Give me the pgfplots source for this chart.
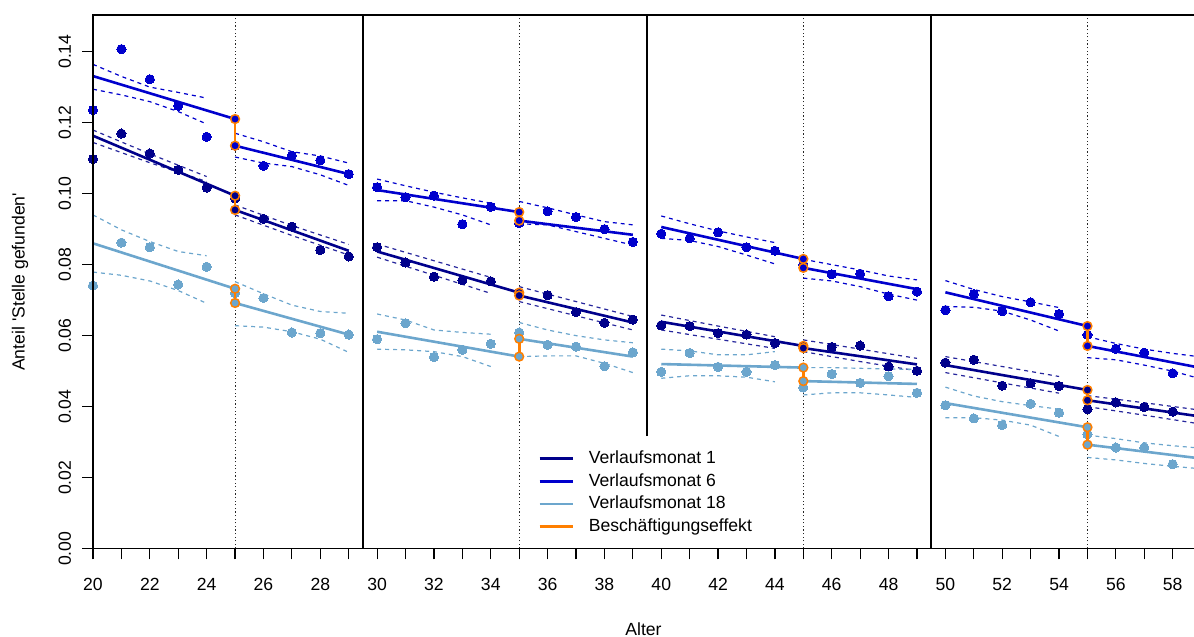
\documentclass[border=0pt]{standalone}
\usepackage{pgfplots}
\pgfplotsset{compat=1.18}
\usepackage{fontspec}
\setmainfont{Liberation Sans}
\definecolor{cA}{HTML}{00008B}
\definecolor{cB}{HTML}{0000CD}
\definecolor{cC}{HTML}{6CA6CD}
\definecolor{cO}{HTML}{FF7F00}
\pgfplotsset{
 pts/.style={forget plot, only marks, mark=*, mark size=2.3pt, color=#1, mark options={draw=#1, fill=#1, line width=0pt}},
 fit/.style={forget plot, no marks, color=#1, line width=1.3pt},
 ci/.style={forget plot, no marks, color=#1, line width=0.6pt, dash pattern=on 2pt off 2pt},
 oseg/.style={forget plot, no marks, color=cO, line width=1.3pt},
 ocir/.style={forget plot, only marks, mark=*, mark size=2.2pt, color=cO, mark options={draw=cO, fill=#1, line width=0.75pt}},
 vdot/.style={forget plot, no marks, color=black!85, line width=0.55pt, dash pattern=on 0.6pt off 1.2pt},
 sep/.style={forget plot, no marks, color=black, line width=1.1pt},
}
\begin{document}
\begin{tikzpicture}
\begin{axis}[
 scale only axis, width=550.5pt, height=266.85pt,
 xmin=20, xmax=58.75, ymin=0, ymax=0.1503,
 axis line style={draw=none},
 tick align=outside, xtick pos=bottom, ytick pos=left,
 xtick={20,22,24,26,28,30,32,34,36,38,40,42,44,46,48,50,52,54,56,58},
 xticklabels={20,22,24,26,28,30,32,34,36,38,40,42,44,46,48,50,52,54,56,58},
 minor xtick={21,23,25,27,29,31,33,35,37,39,41,43,45,47,49,51,53,55,57},
 ytick={0,0.02,0.04,0.06,0.08,0.10,0.12,0.14},
 yticklabels={0.00,0.02,0.04,0.06,0.08,0.10,0.12,0.14},
 scaled y ticks=false,
 major tick length=5.3pt, minor tick length=5.3pt,
 tick style={black, line width=0.6pt},
 ticklabel style={font=\fontsize{8.8}{10}\selectfont},
 xticklabel style={yshift=-6pt},
 yticklabel style={xshift=-2.2pt, rotate=90, anchor=south},
 label style={font=\fontsize{8.8}{10}\selectfont},
 xlabel={Alter},
 ylabel={Anteil \textquotesingle Stelle gefunden\textquotesingle},
 xlabel style={at={(axis description cs:0.5,-0.15)}, anchor=center},
 ylabel style={at={(axis description cs:-0.0663,0.5)}, anchor=center},
 clip mode=individual,
 legend cell align=left,
 legend image code/.code={\draw[#1] (0pt,0pt) -- (16.5pt,0pt);},
 legend style={at={(rel axis cs:0.404,0.19)}, anchor=north west, draw=none, fill=none,
   inner sep=0pt, row sep=0.3pt, column sep=6.5pt,
   font=\fontsize{8.8}{10}\selectfont,
   nodes={inner sep=1pt, text height=7pt, text depth=2pt}},
]
\addlegendimage{cA, line width=1.3pt}\addlegendentry{Verlaufsmonat 1}
\addlegendimage{cB, line width=1.3pt}\addlegendentry{Verlaufsmonat 6}
\addlegendimage{cC, line width=1.3pt}\addlegendentry{Verlaufsmonat 18}
\addlegendimage{cO, line width=1.3pt}\addlegendentry{Beschäftigungseffekt}

% separators and cutoffs
\addplot[vdot] coordinates {(25,0) (25,0.1503)};
\addplot[vdot] coordinates {(35,0) (35,0.1503)};
\addplot[vdot] coordinates {(45,0) (45,0.1503)};
\addplot[vdot] coordinates {(55,0) (55,0.1503)};
\addplot[sep] coordinates {(29.5,0) (29.5,0.1503)};
\addplot[sep] coordinates {(39.5,0.0317) (39.5,0.1503)};
\addplot[sep] coordinates {(49.5,0) (49.5,0.1503)};

% ===== Panel 1 =====
\addplot[ci=cA!85] coordinates {(20,0.1179) (22,0.1112) (24,0.1048)};
\addplot[ci=cA!85] coordinates {(20,0.1144) (22,0.1087) (24,0.1034)};
\addplot[ci=cA!85] coordinates {(25,0.0968) (27,0.0910) (29,0.0857)};
\addplot[ci=cA!85] coordinates {(25,0.0940) (27,0.0882) (29,0.0827)};
\addplot[ci=cB] coordinates {(20,0.1364) (21,0.1330) (22,0.1300) (23,0.1285) (24,0.1269)};
\addplot[ci=cB] coordinates {(20,0.1294) (21,0.1278) (22,0.1259) (23,0.1231) (24,0.1196)};
\addplot[ci=cB] coordinates {(25,0.1170) (26,0.1146) (27,0.1118) (28,0.1106) (29,0.1086)};
\addplot[ci=cB] coordinates {(25,0.1103) (26,0.1086) (27,0.1076) (28,0.1053) (29,0.1023)};
\addplot[ci=cC] coordinates {(20,0.0940) (21,0.0898) (22,0.0865) (23,0.0837) (24,0.0825)};
\addplot[ci=cC] coordinates {(20,0.0779) (21,0.0770) (22,0.0754) (23,0.0727) (24,0.0691)};
\addplot[ci=cC] coordinates {(25,0.0752) (26,0.0718) (27,0.0686) (28,0.0668) (29,0.0663)};
\addplot[ci=cC] coordinates {(25,0.0628) (26,0.0624) (27,0.0611) (28,0.0590) (29,0.0553)};
\addplot[fit=cA] coordinates {(20,0.1163) (25,0.0994)};
\addplot[fit=cA] coordinates {(25,0.0954) (29,0.0839)};
\addplot[fit=cB] coordinates {(20,0.1331) (25,0.1210)};
\addplot[fit=cB] coordinates {(25,0.1135) (29,0.1055)};
\addplot[fit=cC] coordinates {(20,0.0860) (25,0.0732)};
\addplot[fit=cC] coordinates {(25,0.0692) (29,0.0603)};
\addplot[pts=cA] coordinates {(20,0.1097) (21,0.1169) (22,0.1113) (23,0.1067) (24,0.1017) (25,0.0986) (26,0.0929) (27,0.0907) (28,0.0841) (29,0.0823)};
\addplot[pts=cB] coordinates {(20,0.1235) (21,0.1407) (22,0.1322) (23,0.1247) (24,0.1160) (25,0.1135) (26,0.1078) (27,0.1107) (28,0.1094) (29,0.1055)};
\addplot[pts=cC] coordinates {(20,0.0741) (21,0.0862) (22,0.0849) (23,0.0744) (24,0.0794) (25,0.0720) (26,0.0706) (27,0.0609) (28,0.0607) (29,0.0603)};
\addplot[oseg] coordinates {(25,0.0994) (25,0.0954)};
\addplot[oseg] coordinates {(25,0.1210) (25,0.1135)};
\addplot[oseg] coordinates {(25,0.0732) (25,0.0692)};
\addplot[ocir=cA] coordinates {(25,0.0994) (25,0.0954)};
\addplot[ocir=cB] coordinates {(25,0.1210) (25,0.1135)};
\addplot[ocir=cC] coordinates {(25,0.0732) (25,0.0692)};

% ===== Panel 2 =====
\addplot[ci=cA!85] coordinates {(30,0.0858) (32,0.0811) (34,0.0764)};
\addplot[ci=cA!85] coordinates {(30,0.0821) (32,0.0770) (34,0.0719)};
\addplot[ci=cA!85] coordinates {(35,0.0738) (37,0.0696) (39,0.0654)};
\addplot[ci=cA!85] coordinates {(35,0.0696) (37,0.0656) (39,0.0616)};
\addplot[ci=cB] coordinates {(30,0.1041) (31,0.1022) (32,0.1004) (33,0.0988) (34,0.0973)};
\addplot[ci=cB] coordinates {(30,0.0980) (31,0.0980) (32,0.0962) (33,0.0940) (34,0.0912)};
\addplot[ci=cB] coordinates {(35,0.0978) (36,0.0960) (37,0.0940) (38,0.0921) (39,0.0912)};
\addplot[ci=cB] coordinates {(35,0.0915) (36,0.0912) (37,0.0893) (38,0.0874) (39,0.0855)};
\addplot[ci=cC] coordinates {(30,0.0661) (31,0.0644) (32,0.0616) (33,0.0609) (34,0.0604)};
\addplot[ci=cC] coordinates {(30,0.0562) (31,0.0560) (32,0.0555) (33,0.0541) (34,0.0513)};
\addplot[ci=cC] coordinates {(35,0.0637) (36,0.0616) (37,0.0600) (38,0.0588) (39,0.0580)};
\addplot[ci=cC] coordinates {(35,0.0541) (36,0.0543) (37,0.0543) (38,0.0522) (39,0.0496)};
\addplot[fit=cA] coordinates {(30,0.0837) (35,0.0721)};
\addplot[fit=cA] coordinates {(35,0.0713) (39,0.0637)};
\addplot[fit=cB] coordinates {(30,0.1010) (35,0.0948)};
\addplot[fit=cB] coordinates {(35,0.0924) (39,0.0884)};
\addplot[fit=cC] coordinates {(30,0.0611) (35,0.0541)};
\addplot[fit=cC] coordinates {(35,0.0591) (39,0.0541)};
\addplot[pts=cA] coordinates {(30,0.0849) (31,0.0806) (32,0.0766) (33,0.0756) (34,0.0753) (35,0.0721) (36,0.0714) (37,0.0666) (38,0.0636) (39,0.0645)};
\addplot[pts=cB] coordinates {(30,0.1018) (31,0.0990) (32,0.0994) (33,0.0914) (34,0.0963) (35,0.0917) (36,0.0950) (37,0.0934) (38,0.0900) (39,0.0864)};
\addplot[pts=cC] coordinates {(30,0.0590) (31,0.0635) (32,0.0540) (33,0.0560) (34,0.0577) (35,0.0609) (36,0.0574) (37,0.0569) (38,0.0514) (39,0.0553)};
\addplot[oseg] coordinates {(35,0.0721) (35,0.0713)};
\addplot[oseg] coordinates {(35,0.0948) (35,0.0924)};
\addplot[oseg] coordinates {(35,0.0541) (35,0.0591)};
\addplot[ocir=cA] coordinates {(35,0.0721) (35,0.0713)};
\addplot[ocir=cB] coordinates {(35,0.0948) (35,0.0924)};
\addplot[ocir=cC] coordinates {(35,0.0541) (35,0.0591)};

% ===== Panel 3 =====
\addplot[ci=cA!85] coordinates {(40,0.0658) (42,0.0627) (44,0.0597)};
\addplot[ci=cA!85] coordinates {(40,0.0616) (42,0.0590) (44,0.0564)};
\addplot[ci=cA!85] coordinates {(45,0.0588) (47,0.0562) (49,0.0536)};
\addplot[ci=cA!85] coordinates {(45,0.0555) (47,0.0527) (49,0.0501)};
\addplot[ci=cB] coordinates {(40,0.0937) (41,0.0915) (42,0.0895) (43,0.0878) (44,0.0862)};
\addplot[ci=cB] coordinates {(40,0.0874) (41,0.0868) (42,0.0851) (43,0.0827) (44,0.0802)};
\addplot[ci=cB] coordinates {(45,0.0815) (46,0.0800) (47,0.0785) (48,0.0768) (49,0.0757)};
\addplot[ci=cB] coordinates {(45,0.0762) (46,0.0754) (47,0.0738) (48,0.0717) (49,0.0700)};
\addplot[ci=cC] coordinates {(40,0.0562) (41,0.0557) (42,0.0546) (43,0.0546) (44,0.0555)};
\addplot[ci=cC] coordinates {(40,0.0480) (41,0.0487) (42,0.0487) (43,0.0483) (44,0.0470)};
\addplot[ci=cC] coordinates {(45,0.0510) (46,0.0510) (47,0.0508) (48,0.0506) (49,0.0505)};
\addplot[ci=cC] coordinates {(45,0.0433) (46,0.0439) (47,0.0439) (48,0.0433) (49,0.0426)};
\addplot[fit=cA] coordinates {(40,0.0639) (45,0.0571)};
\addplot[fit=cA] coordinates {(45,0.0565) (49,0.0519)};
\addplot[fit=cB] coordinates {(40,0.0906) (45,0.0816)};
\addplot[fit=cB] coordinates {(45,0.0791) (49,0.0731)};
\addplot[fit=cC] coordinates {(40,0.0520) (45,0.0510)};
\addplot[fit=cC] coordinates {(45,0.0472) (49,0.0464)};
\addplot[pts=cA] coordinates {(40,0.0629) (41,0.0627) (42,0.0607) (43,0.0603) (44,0.0579) (45,0.0571) (46,0.0568) (47,0.0572) (48,0.0513) (49,0.0501)};
\addplot[pts=cB] coordinates {(40,0.0887) (41,0.0874) (42,0.0891) (43,0.0849) (44,0.0839) (45,0.0800) (46,0.0773) (47,0.0774) (48,0.0711) (49,0.0724)};
\addplot[pts=cC] coordinates {(40,0.0498) (41,0.0551) (42,0.0512) (43,0.0498) (44,0.0517) (45,0.0454) (46,0.0492) (47,0.0467) (48,0.0486) (49,0.0439)};
\addplot[oseg] coordinates {(45,0.0571) (45,0.0565)};
\addplot[oseg] coordinates {(45,0.0816) (45,0.0791)};
\addplot[oseg] coordinates {(45,0.0510) (45,0.0472)};
\addplot[ocir=cA] coordinates {(45,0.0571) (45,0.0565)};
\addplot[ocir=cB] coordinates {(45,0.0816) (45,0.0791)};
\addplot[ocir=cC] coordinates {(45,0.0510) (45,0.0472)};

% ===== Panel 4 =====
\addplot[ci=cA!85] coordinates {(50,0.0541) (52,0.0513) (54,0.0485)};
\addplot[ci=cA!85] coordinates {(50,0.0496) (52,0.0467) (54,0.0438)};
\addplot[ci=cA!85] coordinates {(55,0.0431) (57,0.0411) (59,0.0390)};
\addplot[ci=cA!85] coordinates {(55,0.0400) (57,0.0376) (59,0.0351)};
\addplot[ci=cB] coordinates {(50,0.0755) (51,0.0730) (52,0.0710) (53,0.0695) (54,0.0679)};
\addplot[ci=cB] coordinates {(50,0.0682) (51,0.0680) (52,0.0669) (53,0.0644) (54,0.0613)};
\addplot[ci=cB] coordinates {(55,0.0597) (56,0.0578) (57,0.0562) (58,0.0550) (59,0.0540)};
\addplot[ci=cB] coordinates {(55,0.0538) (56,0.0532) (57,0.0517) (58,0.0500) (59,0.0478)};
\addplot[ci=cC] coordinates {(50,0.0455) (51,0.0430) (52,0.0414) (53,0.0403) (54,0.0393)};
\addplot[ci=cC] coordinates {(50,0.0369) (51,0.0369) (52,0.0362) (53,0.0348) (54,0.0316)};
\addplot[ci=cC] coordinates {(55,0.0320) (56,0.0310) (57,0.0298) (58,0.0290) (59,0.0283)};
\addplot[ci=cC] coordinates {(55,0.0257) (56,0.0250) (57,0.0240) (58,0.0232) (59,0.0225)};
\addplot[fit=cA] coordinates {(50,0.0517) (55,0.0447)};
\addplot[fit=cA] coordinates {(55,0.0418) (59,0.0372)};
\addplot[fit=cB] coordinates {(50,0.0722) (55,0.0627)};
\addplot[fit=cB] coordinates {(55,0.0571) (59,0.0509)};
\addplot[fit=cC] coordinates {(50,0.0410) (55,0.0342)};
\addplot[fit=cC] coordinates {(55,0.0293) (59,0.0254)};
\addplot[pts=cA] coordinates {(50,0.0524) (51,0.0532) (52,0.0459) (53,0.0466) (54,0.0458) (55,0.0393) (56,0.0412) (57,0.0399) (58,0.0386)};
\addplot[pts=cB] coordinates {(50,0.0672) (51,0.0717) (52,0.0669) (53,0.0694) (54,0.0661) (55,0.0602) (56,0.0563) (57,0.0552) (58,0.0494)};
\addplot[pts=cC] coordinates {(50,0.0404) (51,0.0367) (52,0.0348) (53,0.0408) (54,0.0383) (55,0.0322) (56,0.0285) (57,0.0285) (58,0.0238)};
\addplot[oseg] coordinates {(55,0.0447) (55,0.0418)};
\addplot[oseg] coordinates {(55,0.0627) (55,0.0571)};
\addplot[oseg] coordinates {(55,0.0342) (55,0.0293)};
\addplot[ocir=cA] coordinates {(55,0.0447) (55,0.0418)};
\addplot[ocir=cB] coordinates {(55,0.0627) (55,0.0571)};
\addplot[ocir=cC] coordinates {(55,0.0342) (55,0.0293)};
\end{axis}
\draw[line width=0.6pt] (current axis.south east) -- (current axis.south west) -- (current axis.north west) -- (current axis.north east);
\pgfresetboundingbox
\path[use as bounding box] ([xshift=-46.5pt,yshift=-44.15pt]current axis.south west) rectangle ([yshift=7.5pt]current axis.north east);
\end{tikzpicture}
\end{document}
